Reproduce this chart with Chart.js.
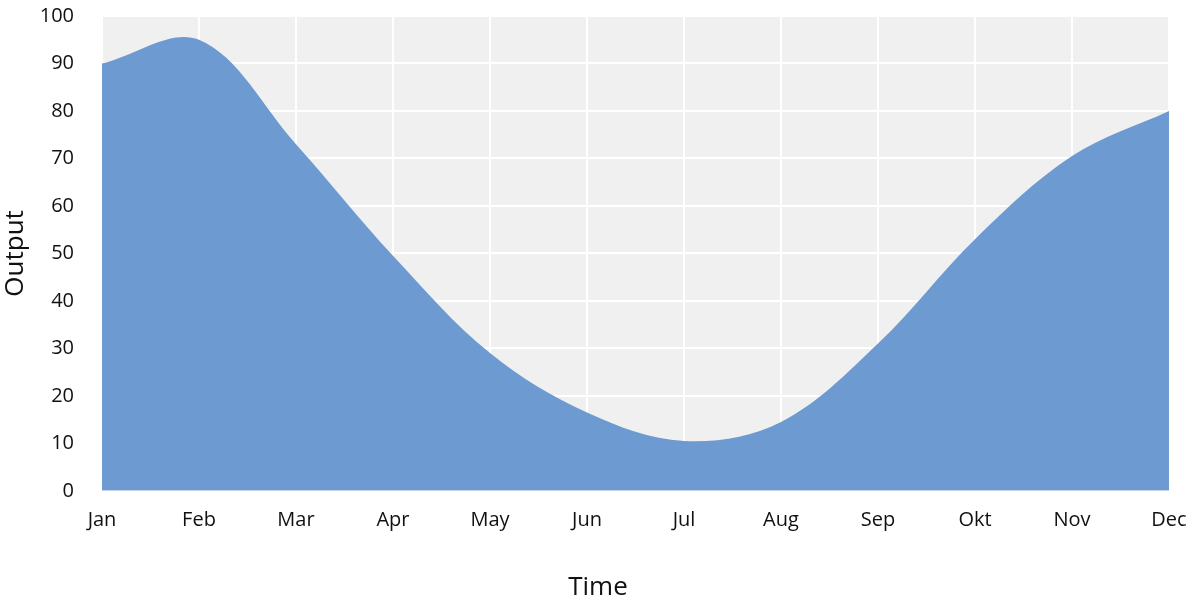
<!DOCTYPE html>
<html>
<head>
<meta charset="utf-8">
<script src="https://cdn.jsdelivr.net/npm/chart.js@4/dist/chart.umd.min.js"></script>
<style>
  html, body { margin: 0; padding: 0; background: #fff; }
  #wrap { width: 1200px; height: 603px; }
</style>
</head>
<body>
<div id="wrap"><canvas id="areaChart"></canvas></div>
<script>
// data
var months = ['Jan', 'Feb', 'Mar', 'Apr', 'May', 'Jun', 'Jul', 'Aug', 'Sep', 'Okt', 'Nov', 'Dec'];
var output = [90, 95, 73, 49.5, 29, 16.5, 10.5, 14.5, 31, 53, 70.5, 80];
var yTicks = [0, 10, 20, 30, 40, 50, 60, 70, 80, 90, 100];

// grey plot background
var plotBg = {
    id: 'plotBg',
    beforeDraw: function (chart) {
        var a = chart.chartArea;
        var ctx = chart.ctx;
        ctx.save();
        ctx.fillStyle = '#f0f0f0';
        ctx.fillRect(a.left, a.top, a.right - a.left, a.bottom - a.top);
        ctx.restore();
    }
};

var font = "'Open Sans', 'Noto Sans', sans-serif";

new Chart(document.getElementById('areaChart'), {
    type: 'line',
    data: {
        labels: months,
        datasets: [{
            data: output,
            fill: 'origin',
            backgroundColor: '#6d9bd1',
            borderWidth: 0,
            pointRadius: 0,
            tension: 0.35
        }]
    },
    options: {
        responsive: true,
        maintainAspectRatio: false,
        animation: false,
        layout: { padding: { top: 16, right: 4, bottom: 0, left: 0 } },
        plugins: {
            legend: { display: false },
            tooltip: { enabled: false },
            // "Time" centred on the whole picture, like the reference
            title: {
                display: true,
                position: 'bottom',
                text: 'Time',
                color: '#111',
                font: { family: font, size: 26, weight: 'normal' },
                padding: { top: 0, bottom: 0 }
            }
        },
        scales: {
            x: {
                grid: { color: '#ffffff', lineWidth: 2, drawTicks: false },
                border: { display: false },
                ticks: { color: '#111', font: { family: font, size: 20 }, padding: 17, maxRotation: 0 },
                afterFit: function (axis) {
                    axis.height = 81;
                    axis.paddingRight = 31;
                }
            },
            y: {
                min: 0,
                max: 100,
                afterBuildTicks: function (axis) {
                    axis.ticks = yTicks.map(function (v) { return { value: v }; });
                },
                grid: { color: '#ffffff', lineWidth: 2, drawTicks: false },
                border: { display: false },
                ticks: { color: '#111', font: { family: font, size: 20 }, padding: 28 },
                title: { display: true, text: 'Output', color: '#111', font: { family: font, size: 26 }, padding: { top: 0, bottom: 0 } },
                afterFit: function (axis) {
                    axis.width = 102;
                    axis.paddingTop = 0;
                    axis.paddingBottom = 0;
                }
            }
        }
    },
    plugins: [plotBg]
});
</script>
</body>
</html>
